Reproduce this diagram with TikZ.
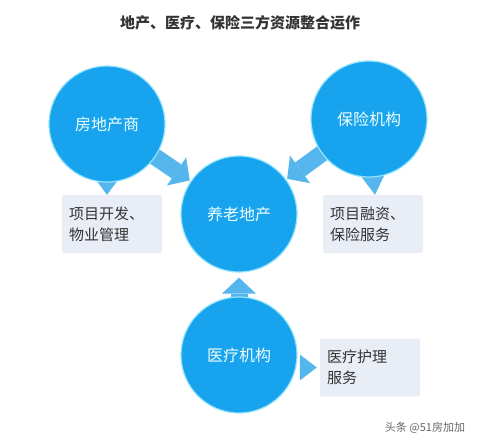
\documentclass[tikz,border=0pt]{standalone}
\usepackage{fontspec}
\setmainfont{Noto Sans CJK SC}
\usetikzlibrary{arrows.meta,backgrounds,calc}

\definecolor{ballblue}{RGB}{24,163,238}
\definecolor{ballrim}{RGB}{150,228,252}
\definecolor{arrowblue}{RGB}{84,182,236}
\definecolor{boxgray}{RGB}{233,237,245}
\definecolor{balltext}{RGB}{238,255,255}

\tikzset{
  ball/.style={circle,minimum size=116pt,inner sep=0pt,fill=ballblue,
    draw=ballrim,line width=1.2pt,text=balltext,font=\fontsize{16}{19}\selectfont},
  infobox/.style={fill=boxgray,rounded corners=2pt,minimum width=100pt,
    minimum height=58pt,text width=86pt,align=left,inner sep=7pt,
    text=black!80,font=\fontsize{15}{21}\selectfont},
  bigarrow/.style={color=arrowblue,line width=17pt,
    -{Triangle[width=34pt,length=16pt,line width=0pt]}},
}

\begin{document}
\begin{tikzpicture}[x=1pt,y=-1pt]
\useasboundingbox (0,0) rectangle (481,445);

% Title
\node[font=\fontsize{15}{18}\selectfont\bfseries,text=black!80] (title) at (240,23)
  {地产、医疗、保险三方资源整合运作};

% Draw the four circles
\node[ball] (senior) at (239,214) {养老地产};
\node[ball] (dev) at (107,124) {房地产商};
\node[ball] (ins) at (369,119) {保险机构};
\node[ball] (med) at (239,355) {医疗机构};

% Draw the text boxes
\node[infobox] (devbox) at (112,224) {项目开发、\\物业管理};
\node[infobox] (insbox) at (373,224) {项目融资、\\保险服务};
\node[infobox] (medbox) at (370,367.5) {医疗护理\\服务};

\begin{scope}[on background layer]
% Draw the arrows into the centre
\draw[bigarrow,shorten <=-6pt,shorten >=1pt] (dev) -- (senior);
\draw[bigarrow,shorten <=-6pt,shorten >=1pt] (ins) -- (senior);
\draw[bigarrow,shorten <=-6pt,shorten >=5pt] (med) -- (senior);

% Draw the small pointers to the boxes
\fill[arrowblue] ($(dev.south)+(-12,-4)$) -- ($(dev.south)+(12,-4)$) -- (devbox.north -| dev.south) -- cycle;
\fill[arrowblue] ($(ins.south)+(-10,-4)$) -- ($(ins.south)+(16,-4)$) -- ($(insbox.north)+(2,0)$) -- cycle;
\fill[arrowblue] ($(medbox.west)+(-20,-13)$) -- ($(medbox.west)+(-20,13)$) -- ($(medbox.west)+(-3,0)$) -- cycle;
\end{scope}

% Watermark
\node[text=black!60,font=\fontsize{11}{13}\selectfont] (mark) at (425,428) {头条 @51房加加};

\end{tikzpicture}
\end{document}
